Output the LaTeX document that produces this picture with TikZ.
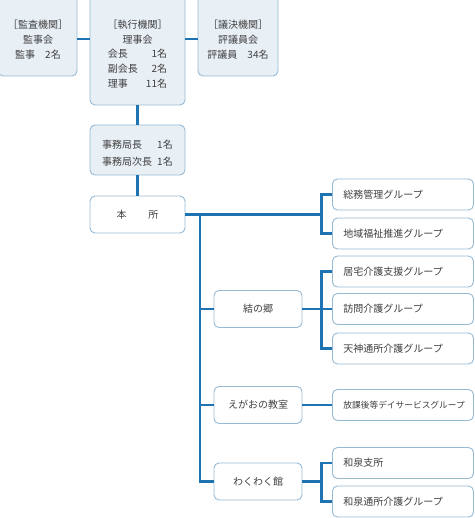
\documentclass[tikz,border=0pt]{standalone}
\usepackage{fontspec}
\setmainfont{Noto Sans CJK JP}
\usetikzlibrary{positioning,calc}
\definecolor{LineBlue}{RGB}{30,115,178}
\definecolor{EdgeBlue}{RGB}{150,186,212}
\definecolor{PaleBlue}{RGB}{232,239,245}
\definecolor{TextGray}{RGB}{64,64,64}
\tikzset{
  orgbox/.style  = {draw=EdgeBlue, line width=0.9pt, rounded corners=5pt,
                    fill=white, text=TextGray, align=center, inner sep=0pt,
                    font=\fontsize{10}{15}\selectfont},
  headbox/.style = {orgbox, fill=PaleBlue},
  boxtext/.style = {text=TextGray, align=center, inner sep=0pt,
                    font=\fontsize{10}{15}\selectfont},
  unitbox/.style = {orgbox, minimum width=88pt, minimum height=37pt},
  grpbox/.style  = {orgbox, anchor=west, align=left, inner xsep=11pt,
                    text width=119pt, minimum height=31pt},
  link/.style    = {draw=LineBlue, line width=2.6pt}
}

\begin{document}
\begin{tikzpicture}[x=1pt,y=-1pt]
\useasboundingbox (0,0) rectangle (474,518);
% upper organs
\node[headbox, minimum width=79pt, minimum height=84pt] (kansa) at (37.5,34) {};
\node[boxtext] (kansatxt) at (38,40) {［監査機関］\\監事会\\監事\quad 2名};
\node[headbox, minimum width=95pt, minimum height=113pt] (riji) at (137.5,48.5) {};
\node[boxtext] (rijitxt) at (137.5,56) {［執行機関］\\理事会\\[2pt]
   \begin{tabular}{@{}l@{\hspace{8pt}}r@{}}会長&1名\\副会長&2名\\理事&11名\end{tabular}};
\node[headbox, minimum width=80pt, minimum height=84pt] (hyogi) at (238,34) {};
\node[boxtext] (hyogitxt) at (238,40) {［議決機関］\\評議員会\\評議員\quad 34名};
\node[headbox, minimum width=95pt, minimum height=50pt] (jimu) at (137.5,150) {};
\node[boxtext, font=\fontsize{10}{17}\selectfont] (jimutxt) at (137.5,154)
  {\begin{tabular}{@{}l@{\hspace{5pt}}r@{}}事務局長&1名\\事務局次長&1名\end{tabular}};
\node[orgbox, minimum width=95pt, minimum height=37pt] (honbu) at (137.5,214.5)
  {本\hspace{2.2em}所};
% offices
\node[unitbox] (yui) at (258,309) {結の郷};
\node[unitbox] (egao) at (258,405) {えがおの教室};
\node[unitbox] (waku) at (258,481.5) {わくわく館};
% groups
\node[grpbox] (somu)    at (332,194.5) {総務管理グループ};
\node[grpbox] (chiiki)  at (332,233.5) {地域福祉推進グループ};
\node[grpbox] (kyotaku) at (332,271.5) {居宅介護支援グループ};
\node[grpbox] (homon)   at (332,309)   {訪問介護グループ};
\node[grpbox] (tenjin)  at (332,348.5) {天神通所介護グループ};
\node[grpbox, font=\fontsize{8.7}{13}\selectfont] (hokago) at (332,405)
  {放課後等デイサービスグループ};
\node[grpbox] (izumi)   at (332,463)   {和泉支所};
\node[grpbox] (izumits) at (332,501.5) {和泉通所介護グループ};

\coordinate (topline) at (0,39);
\coordinate (trunk) at (200,0);
\coordinate (fork) at (321.5,0);

% connectors
\draw[link] (kansa.east |- topline) -- (riji.west |- topline);
\draw[link] (riji.east |- topline) -- (hyogi.west |- topline);
\draw[link] (riji) -- (jimu);
\draw[link] (jimu) -- (honbu);
\draw[link] (honbu.east) -- (honbu.east -| fork);
\draw[link] (somu.west) -| (fork |- chiiki.west) -- (chiiki.west);
\draw[link] (honbu.east -| trunk) |- (waku.west);
\draw[link] (trunk |- yui.west) -- (yui.west);
\draw[link] (trunk |- egao.west) -- (egao.west);
\draw[link] (yui.east) -- (yui.east -| fork);
\draw[link] (kyotaku.west) -| (fork |- tenjin.west) -- (tenjin.west);
\draw[link] (homon.west) -- (homon.west -| fork);
\draw[link] (egao) -- (hokago);
\draw[link] (waku.east) -- (waku.east -| fork);
\draw[link] (izumi.west) -| (fork |- izumits.west) -- (izumits.west);
\end{tikzpicture}
\end{document}
